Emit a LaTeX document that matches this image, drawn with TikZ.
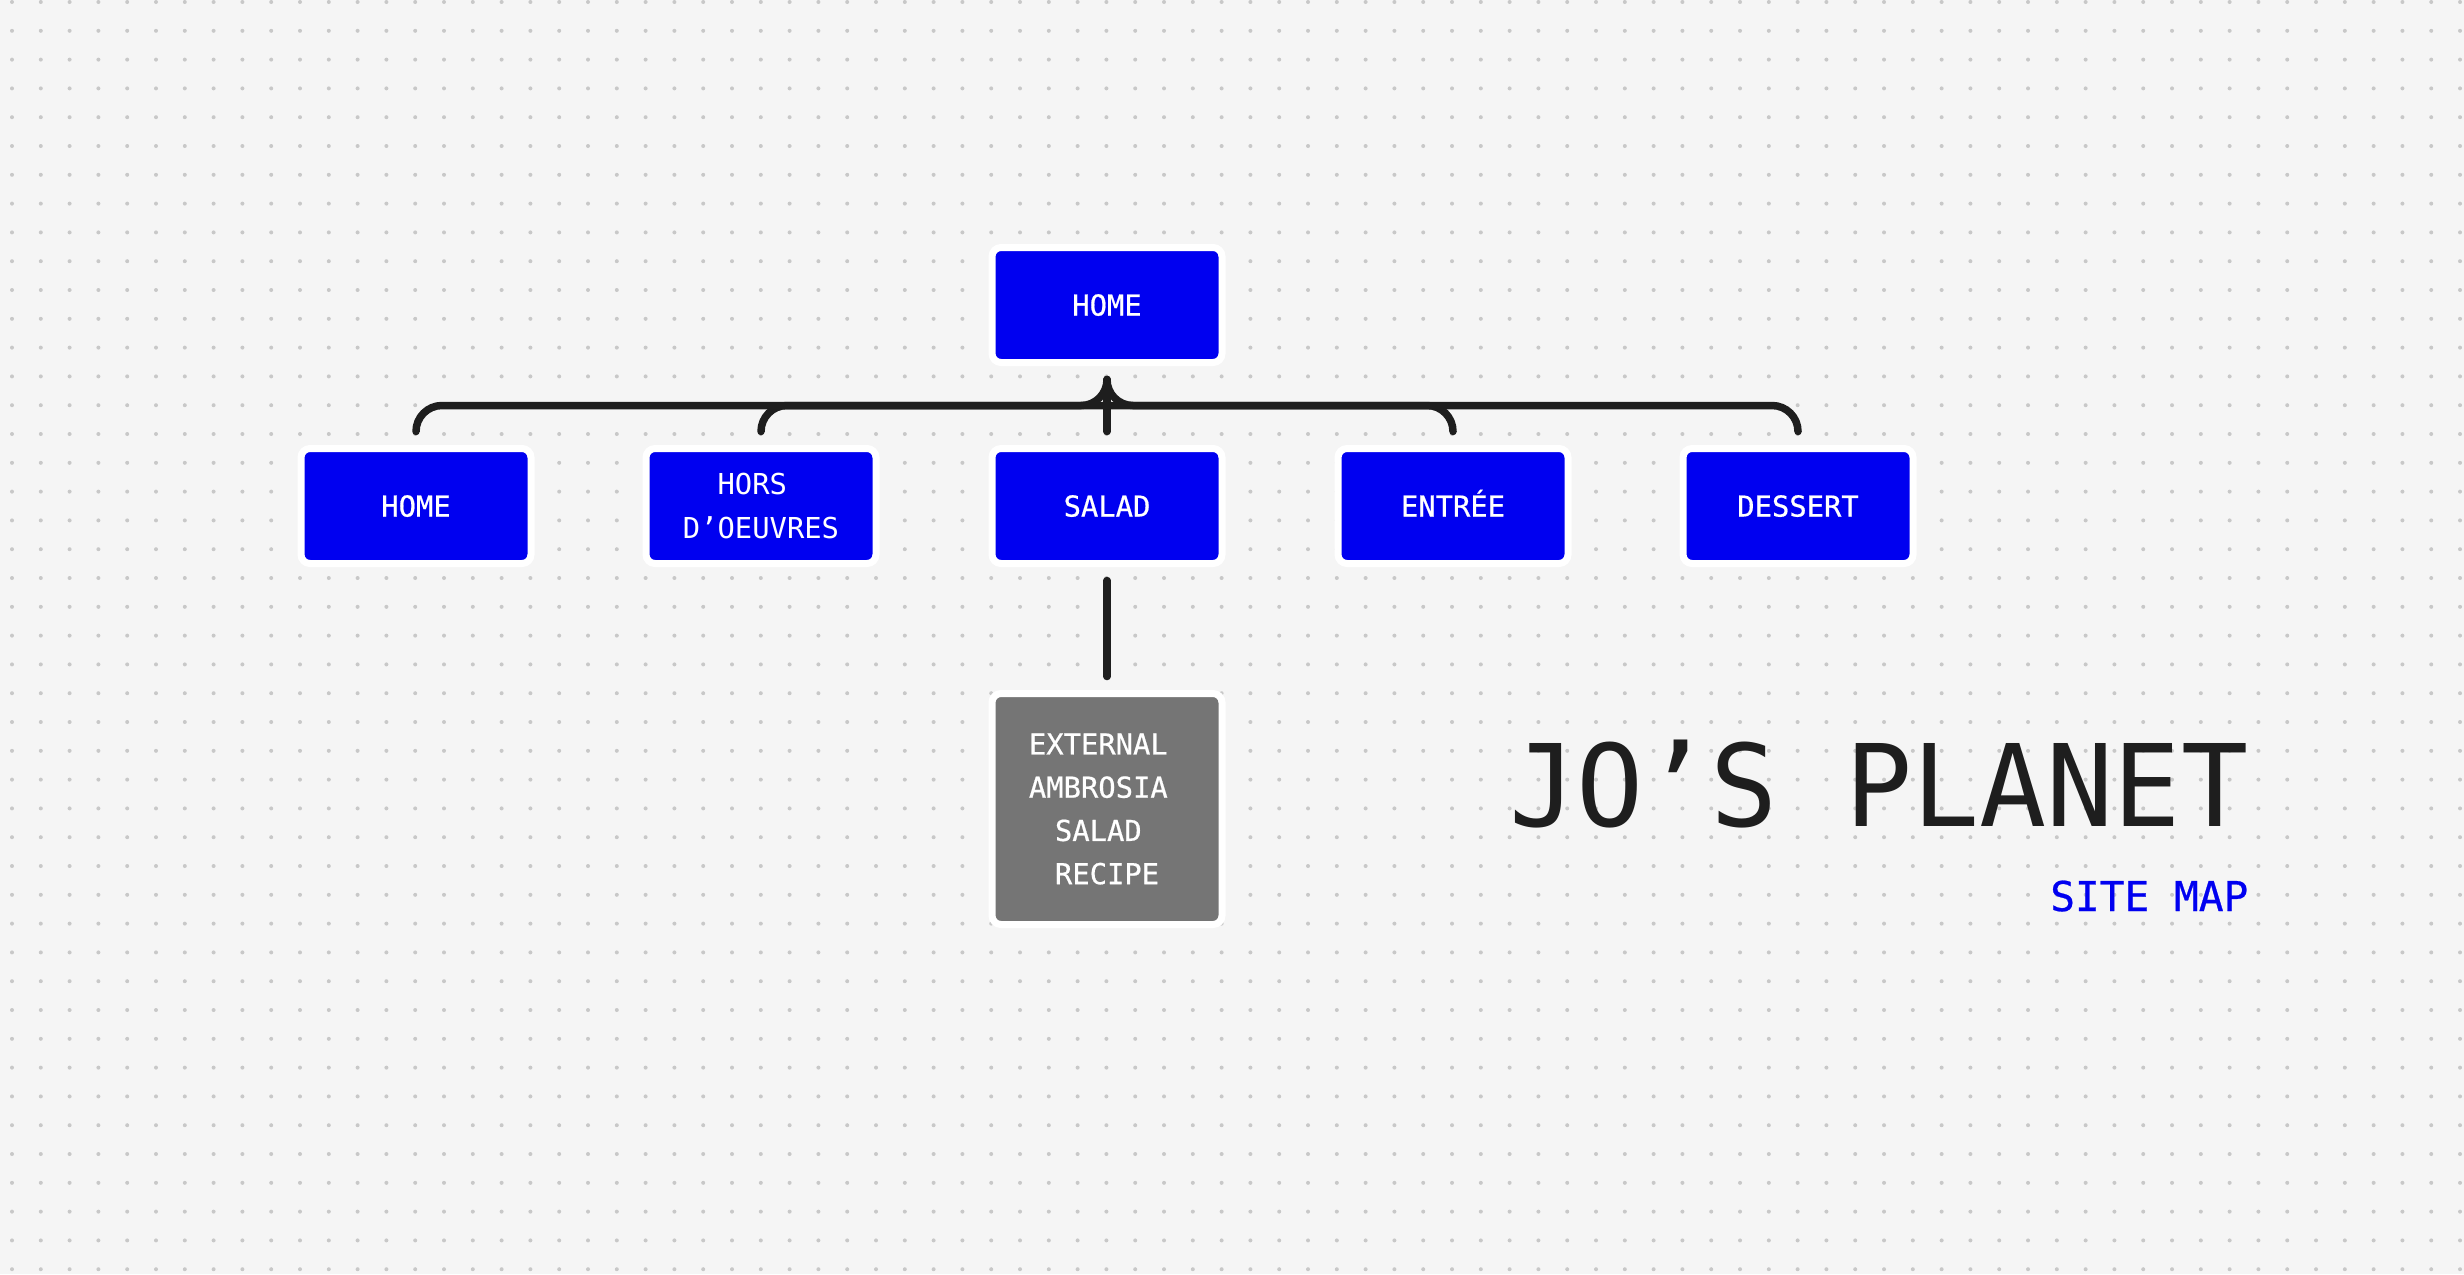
\documentclass[tikz,border=0pt]{standalone}
\usepackage{fontspec}
\usepackage{tikz}
\usepackage{xcolor}
\newfontfamily\sitemono{DejaVu Sans Mono}
\newfontfamily\sitemedium[FakeBold=0.6]{DejaVu Sans Mono}
\newfontfamily\sitetitle[FakeStretch=0.98]{DejaVu Sans Mono}
\definecolor{siteblue}{RGB}{0, 0, 240}
\definecolor{sitegray}{RGB}{117, 117, 117}
\definecolor{siteink}{RGB}{30, 30, 30}
\definecolor{sitepaper}{RGB}{245, 245, 245}
\definecolor{sitedot}{RGB}{200, 200, 200}
\usetikzlibrary{calc}

\begin{document}
\begin{tikzpicture}[x=0.1mm, y=-0.1mm,
    page/.style={draw=white, line width=0.7mm, fill=siteblue, rounded corners=0.9mm,
        minimum width=23mm, minimum height=11.5mm, inner sep=0pt, outer sep=1.7mm,
        text=white, font=\sitemedium\fontsize{8.2}{12.3}\selectfont},
    oneline/.style={text height=6pt, text depth=0pt},
    external/.style={page, fill=sitegray, minimum height=23.1mm, align=center},
    link/.style={siteink, line width=0.75mm, line cap=round, rounded corners=2.6mm}]

    % Paper with dot grid
    \useasboundingbox (0,0) rectangle (2464,1274);
    \fill[sitepaper] (0,0) rectangle (2464,1274);
    \foreach \i in {0,...,85}
        \foreach \j in {0,...,44}
            \fill[sitedot] (12+28.8*\i, 2+28.8*\j) circle (2);

    % Pages
    \node[page, oneline] (top) at (1107,305) {HOME};
    \node[page, oneline] (home) at (416,506) {HOME};
    \node[page, align=center, font=\sitemono\fontsize{8.2}{12.3}\selectfont] (hors) at (761,506)
        {HORS\phantom{A}\\D’OEUVRES};
    \node[page, oneline] (salad) at (1107,506) {SALAD};
    \node[page, oneline] (entree) at (1453,506) {ENTRÉE};
    \node[page, oneline] (dessert) at (1798,506) {DESSERT};
    \node[external] (ambrosia) at (1107,809)
        {EXTERNAL\phantom{A}\\AMBROSIA\phantom{A}\\SALAD\phantom{A}\\RECIPE};

    % Links
    \coordinate (bus) at ($(top.south)+(0,26)$);
    \draw[link] (home.north) |- (bus) -- (top.south);
    \draw[link] (dessert.north) |- (bus) -- (top.south);
    \draw[link] (hors.north) |- (bus);
    \draw[link] (entree.north) |- (bus);
    \draw[link] (salad.north) -- (top.south);
    \draw[link] (salad.south) -- (ambrosia.north);

    % Title
    \node[anchor=base east, inner sep=0pt, text=siteink,
        font=\sitetitle\fontsize{32.4}{36}\selectfont] (title) at (2249,826) {JO’S PLANET};
    \node[anchor=base east, inner sep=0pt, text=siteblue,
        font=\sitemedium\fontsize{11.7}{14}\selectfont] (sitemap) at ($(title.base east)+(0,85)$) {SITE MAP};
\end{tikzpicture}
\end{document}
